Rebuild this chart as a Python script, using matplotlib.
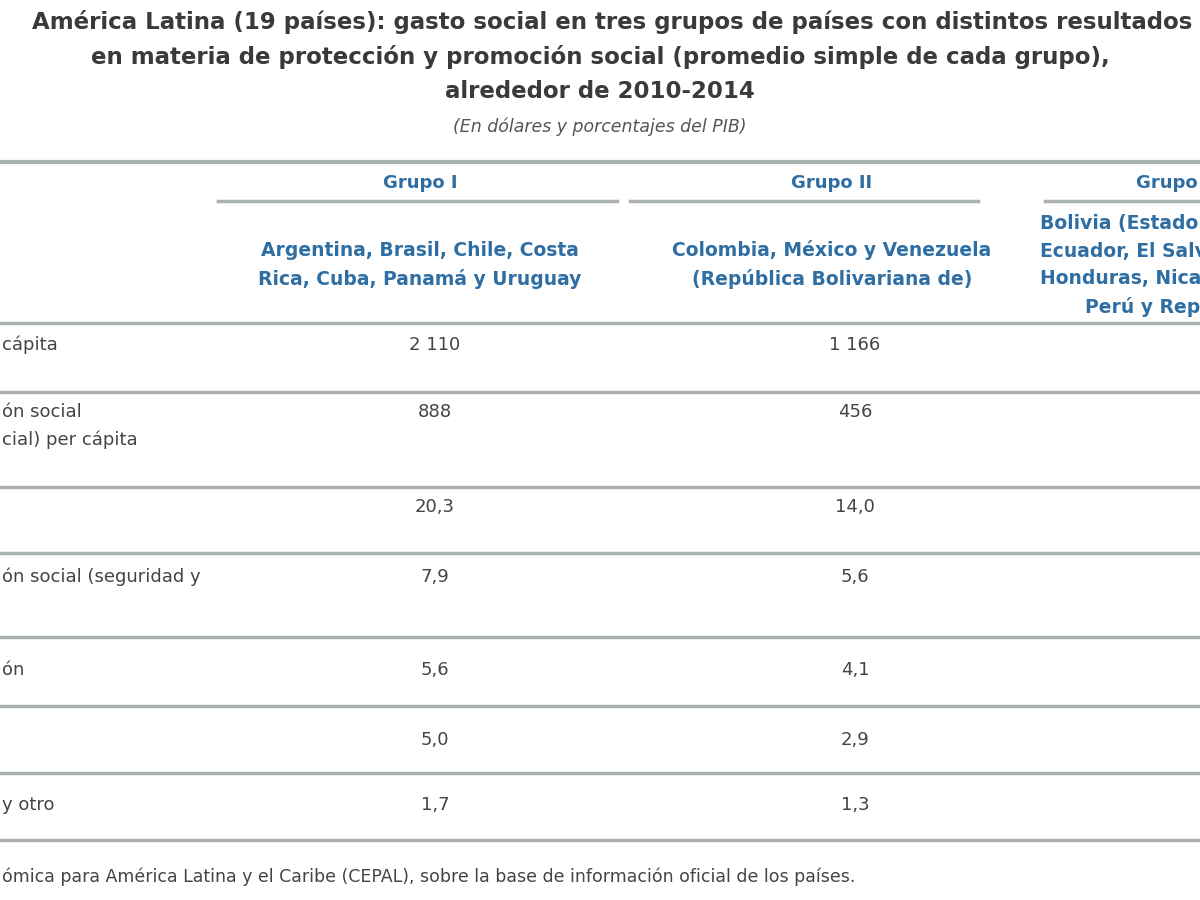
import matplotlib
matplotlib.use("Agg")
import matplotlib.pyplot as plt
from matplotlib import font_manager as fm

names = {f.name for f in fm.fontManager.ttflist}
NARROW = "Liberation Sans Narrow" if "Liberation Sans Narrow" in names else "DejaVu Sans"

title_lines = ["América Latina (19 países): gasto social en tres grupos de países con distintos resultados",
               "en materia de protección y promoción social (promedio simple de cada grupo),",
               "alrededor de 2010-2014"]
subtitle = "(En dólares y porcentajes del PIB)"
groups = ["Grupo I", "Grupo II", "Grupo III"]
group_countries = [["Argentina, Brasil, Chile, Costa", "Rica, Cuba, Panamá y Uruguay"],
                   ["Colombia, México y Venezuela", "(República Bolivariana de)"],
                   ["Bolivia (Estado Plurinacional de),", "Ecuador, El Salvador, Guatemala,",
                    "Honduras, Nicaragua, Paraguay,", "Perú y República Dominicana"]]
row_labels = [["cápita"], ["ón social", "cial) per cápita"], [""], ["ón social (seguridad y"],
              ["ón"], [""], ["y otro"]]
grupo1 = ["2 110", "888", "20,3", "7,9", "5,6", "5,0", "1,7"]
grupo2 = ["1 166", "456", "14,0", "5,6", "4,1", "2,9", "1,3"]
footer = "ómica para América Latina y el Caribe (CEPAL), sobre la base de información oficial de los países."

W, H = 1200, 900
fig = plt.figure(figsize=(12, 9), dpi=100)
ax = fig.add_axes([0, 0, 1, 1])
ax.set_xlim(0, W); ax.set_ylim(H, 0); ax.axis("off")

TC = "#3a3a3a"; BLUE = "#2f6ea3"; LC = "#a9b0b0"
ty = [22, 57, 92]
tx = [612, 600, 600]
for t, y, x in zip(title_lines, ty, tx):
    ax.text(x, y, t, ha="center", va="center", fontsize=16.5, fontweight="bold",
            color=TC, family=NARROW)
ax.text(600, 127, subtitle, ha="center", va="center", fontsize=12.5, style="italic",
        color="#555555", family=NARROW)

ax.plot([0, W], [162, 162], color=LC, lw=3)
for x0, x1 in [(218, 617), (630, 978), (1045, W)]:
    ax.plot([x0, x1], [201, 201], color=LC, lw=2.5)
for y in [323, 392, 487, 553, 637, 706, 773, 840]:
    ax.plot([0, W], [y, y], color=LC, lw=2.5)

gx = [420, 832, 1180]
for g, x in zip(groups, gx):
    ax.text(x, 183, g, ha="center", va="center", fontsize=13, fontweight="bold",
            color=BLUE, family=NARROW)
for i, lines in enumerate(group_countries):
    for j, l in enumerate(lines):
        if i < 2:
            ax.text(gx[i], 250 + j * 29, l, ha="center", va="center", fontsize=13.5,
                    fontweight="bold", color=BLUE, family=NARROW)
        else:
            ax.text(1040 + (45 if j == 3 else 0), 223 + j * 28, l, ha="left", va="center",
                    fontsize=13.5, fontweight="bold", color=BLUE, family=NARROW)

row_y = [345, 412, 507, 577, 670, 740, 805]
for lab, v1, v2, y in zip(row_labels, grupo1, grupo2, row_y):
    for j, l in enumerate(lab):
        ax.text(2, y + j * 28, l, ha="left", va="center", fontsize=13, color="#444444", family=NARROW)
    ax.text(435, y, v1, ha="center", va="center", fontsize=13, color="#444444", family=NARROW)
    ax.text(855, y, v2, ha="center", va="center", fontsize=13, color="#444444", family=NARROW)

ax.text(2, 877, footer, ha="left", va="center", fontsize=12.5, color="#444444", family=NARROW)
fig.savefig("out.png", dpi=100, facecolor="white")
